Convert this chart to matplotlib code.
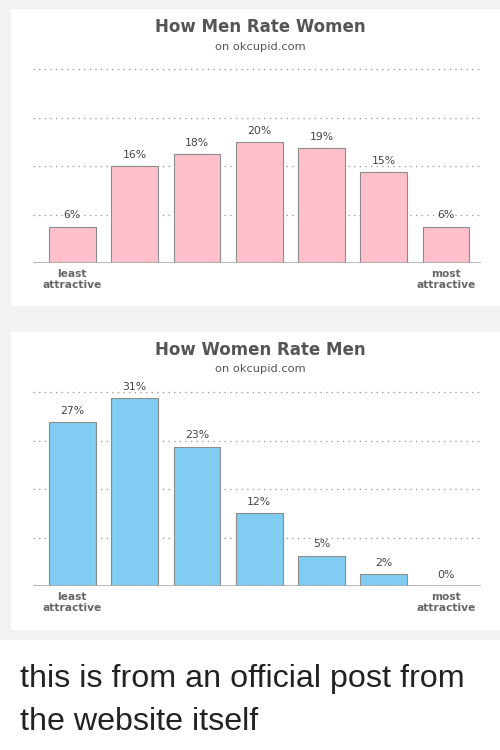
import matplotlib.pyplot as plt
from matplotlib.patches import Rectangle

# Data
ratings = [1, 2, 3, 4, 5, 6, 7]
tick_labels = ["least\nattractive", "", "", "", "", "", "most\nattractive"]
men_rate_women = [6, 16, 18, 20, 19, 15, 6]
women_rate_men = [27, 31, 23, 12, 5, 2, 0]
grid_levels = [8, 16, 24, 32]

W, H = 500, 750
fig = plt.figure(figsize=(W / 100, H / 100), dpi=100)
fig.patch.set_facecolor("white")

def px_rect(x0, y0, x1, y1, color):
    # rectangle in pixel coords, measured from the top of the figure
    fig.patches.append(Rectangle((x0 / W, 1 - y1 / H), (x1 - x0) / W, (y1 - y0) / H,
                                 transform=fig.transFigure, facecolor=color,
                                 edgecolor="none", zorder=-10))

px_rect(0, 0, W, 640, "#f2f2f2")
px_rect(11, 9, W, 306, "white")
px_rect(11, 332, W, 630, "white")


def panel(baseline_px, title, title_y, sub_y, values, color):
    ax = fig.add_axes([33 / W, 1 - baseline_px / H, 448 / W, 200 / H])
    ax.set_facecolor("none")
    x = list(range(len(ratings)))
    for g in grid_levels:
        ax.axhline(g, color="#8f8f8f", lw=0.9, ls=(0, (1, 3.5)), zorder=0)
    bars = ax.bar(x, values, width=0.75, color=color, edgecolor="#8c8c8c",
                  linewidth=0.8, zorder=2)
    for b, v in zip(bars, values):
        ax.annotate(f"{v}%", (b.get_x() + b.get_width() / 2, v),
                    xytext=(0, 4.5), textcoords="offset points", ha="center",
                    va="bottom", fontsize=7.8, color="#444444", zorder=3)
    ax.axhline(0, color="#aaaaaa", lw=1.2, zorder=3)
    ax.set_xlim(-0.63, 6.56)
    ax.set_ylim(0, 33)
    ax.set_xticks(x)
    ax.set_xticklabels(tick_labels, fontsize=7.7, fontweight="bold",
                       color="#666666", linespacing=1.2)
    ax.tick_params(axis="x", length=0, pad=4)
    ax.set_yticks([])
    for s in ax.spines.values():
        s.set_visible(False)
    fig.text(0.52, 1 - title_y / H, title, ha="center", va="center",
             fontsize=12, fontweight="bold", color="#555555")
    fig.text(0.52, 1 - sub_y / H, "on okcupid.com", ha="center", va="center",
             fontsize=8.2, color="#555555")
    return ax


panel(263, "How Men Rate Women", 27, 47, men_rate_women, "#ffc0cb")
panel(586, "How Women Rate Men", 350, 369, women_rate_men, "#80ccf2")

fig.text(20 / W, 1 - 687 / H, "this is from an official post from",
         fontsize=23.2, family="Liberation Sans", color="#222222", va="baseline")
fig.text(20 / W, 1 - 730 / H, "the website itself",
         fontsize=23.2, family="Liberation Sans", color="#222222", va="baseline")

fig.savefig("out.png", dpi=100)
